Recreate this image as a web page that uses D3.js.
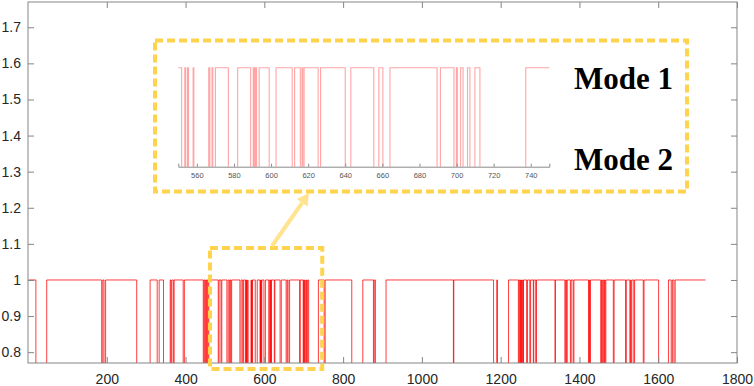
<!DOCTYPE html>
<html>
<head>
<meta charset="utf-8">
<script src="https://cdn.jsdelivr.net/npm/d3@7"></script>
<style>
  html, body { margin: 0; padding: 0; background: #fff; }
  svg { display: block; }
</style>
</head>
<body>
<svg id="chart" width="754" height="386"></svg>
<script>
// ---------------- DATA ----------------
// Mode-2 intervals (start, end) on the sample axis; elsewhere the system is in Mode 1
const mode2Start = [20, 187, 193, 276, 328, 344, 363, 369, 394, 445, 449, 453, 457, 483, 490,
  505, 511, 515, 538, 545, 551.8, 554, 555.5, 558.4, 567, 568.6, 577, 589, 591, 592.2, 599,
  611.4, 615.8, 617.1, 625.4, 640, 655.4, 660.3, 689.5, 698.6, 700.4, 703.5, 707.2, 712.6,
  751.8, 822, 877, 882, 1080, 1182, 1192, 1245, 1249, 1251, 1254, 1257, 1266, 1274, 1283, 1289,
  1338, 1363, 1367, 1377, 1384, 1423, 1426, 1454, 1458, 1462, 1465, 1486, 1517, 1528, 1531,
  1538, 1562, 1601, 1633, 1640];
const mode2End = [47.5, 190, 197, 310, 333, 361, 365, 371, 397, 447, 451, 455, 459, 485, 492,
  508, 513, 517, 541, 547, 553.5, 555, 558, 566.4, 568.2, 570, 582, 590.4, 591.6, 593.6, 602.7,
  612.7, 616.7, 617.8, 626.7, 643, 658.1, 664.1, 691.3, 699.9, 702.2, 705.9, 709.9, 737.3,
  754.4, 850, 879, 909, 1081, 1190, 1220, 1247, 1250, 1253, 1256, 1258, 1268, 1276, 1284, 1291,
  1339, 1365, 1369, 1379, 1386, 1425, 1428, 1456, 1460, 1464, 1467, 1488, 1519, 1530, 1533,
  1540, 1564, 1626, 1636, 1643];
const seriesStart = 1, seriesEnd = 1720;
const modeLevel = { 1: 1.0, 2: 0.5 };     // Mode 2 lies below the visible range

const xTicks = [200, 400, 600, 800, 1000, 1200, 1400, 1600, 1800];
const yTicks = [0.8, 0.9, 1.0, 1.1, 1.2, 1.3, 1.4, 1.5, 1.6, 1.7];
const insetDomain = [550, 750];
const zoomWindow = [462, 747];   // highlighted window on the main chart
const insetTicks = [560, 580, 600, 620, 640, 660, 680, 700, 720, 740];
const modeLabels = ["Mode 1", "Mode 2"];

// -------------- BUILD STEP SERIES --------------
const steps = [{ x: seriesStart, m: 1 }];
mode2Start.forEach((s, i) => {
  steps.push({ x: s, m: 2 });
  steps.push({ x: mode2End[i], m: 1 });
});
steps.push({ x: seriesEnd, m: 1 });

// -------------- LAYOUT --------------
const svg = d3.select("#chart");
const P = { left: 28, right: 737, top: 2, bottom: 363 };
const x = d3.scaleLinear().domain([0, 1800]).range([P.left, P.right]);
const y = d3.scaleLinear().domain([0.77, 1.77]).range([P.bottom, P.top]);
const axisGray = "#858585";
const labelCol = "#262626";
const FONT = "'Liberation Sans', Arial, Helvetica, sans-serif";

const defs = svg.append("defs");
defs.append("clipPath").attr("id", "mainClip").append("rect")
  .attr("x", P.left).attr("y", P.top).attr("width", P.right - P.left).attr("height", P.bottom - P.top);

// main series
const line = d3.line().x(d => x(d.x)).y(d => y(modeLevel[d.m])).curve(d3.curveStepAfter);
svg.append("path").datum(steps)
  .attr("clip-path", "url(#mainClip)")
  .attr("d", line).attr("fill", "none")
  .attr("stroke", "#ff0000").attr("stroke-width", 0.9).attr("stroke-opacity", 0.85);

// axes
function styleAxis(g, showLabels) {
  g.select(".domain").remove();
  g.selectAll(".tick line").attr("stroke", axisGray);
  g.selectAll(".tick text").attr("fill", labelCol).attr("font-family", FONT).attr("font-size", 14);
  if (!showLabels) g.selectAll(".tick text").remove();
}
const fmt = d => String(+d.toFixed(1));
svg.append("g").attr("transform", `translate(0,${P.bottom})`)
  .call(d3.axisBottom(x).tickValues(xTicks).tickSize(-6).tickPadding(11).tickFormat(d3.format("d")))
  .call(g => styleAxis(g, true));
svg.append("g").attr("transform", `translate(0,${P.top})`)
  .call(d3.axisTop(x).tickValues(xTicks).tickSize(-6))
  .call(g => styleAxis(g, false));
svg.append("g").attr("transform", `translate(${P.left},0)`)
  .call(d3.axisLeft(y).tickValues(yTicks).tickSize(-6).tickPadding(7).tickFormat(fmt))
  .call(g => styleAxis(g, true));
svg.append("g").attr("transform", `translate(${P.right},0)`)
  .call(d3.axisRight(y).tickValues(yTicks).tickSize(-6))
  .call(g => styleAxis(g, false));
svg.append("rect").attr("x", P.left).attr("y", P.top)
  .attr("width", P.right - P.left).attr("height", P.bottom - P.top)
  .attr("fill", "none").attr("stroke", axisGray).attr("stroke-width", 1);

// -------------- INSET --------------
const I = { left: 178.3, right: 549.3, top: 60, axis: 166.7, high: 67.7 };
const xi = d3.scaleLinear().domain(insetDomain).range([I.left, I.right]);
const yi = d3.scaleLinear().domain([0.77, 1.0]).range([I.axis, I.high]);
defs.append("clipPath").attr("id", "insetClip").append("rect")
  .attr("x", I.left).attr("y", I.top).attr("width", I.right - I.left).attr("height", I.axis - I.top);
const lineI = d3.line().x(d => xi(d.x)).y(d => yi(modeLevel[d.m])).curve(d3.curveStepAfter);
svg.append("path").datum(steps)
  .attr("clip-path", "url(#insetClip)")
  .attr("d", lineI).attr("fill", "none")
  .attr("stroke", "#ff8f8f").attr("stroke-width", 1.1).attr("stroke-opacity", 0.8);
const gi = svg.append("g").attr("transform", `translate(0,${I.axis})`)
  .call(d3.axisBottom(xi).tickValues(insetTicks).tickSize(-3).tickPadding(6).tickFormat(d3.format("d")));
gi.select(".domain").attr("stroke", "#8a8a8a");
gi.selectAll(".tick line").attr("stroke", "#8a8a8a");
gi.selectAll(".tick text").attr("fill", "#555").attr("font-family", FONT).attr("font-size", 7.5);

// mode labels
const modeY = [89, 170];
modeLabels.forEach((t, i) => {
  svg.append("text").attr("x", 673).attr("y", modeY[i]).attr("text-anchor", "end")
    .attr("font-family", "'Liberation Serif', 'Times New Roman', serif")
    .attr("font-weight", "bold").attr("font-size", 31).attr("fill", "#000").text(t);
});

// -------------- HIGHLIGHT BOXES & ARROW --------------
const gold = "#ffd34e";
const zx0 = x(zoomWindow[0]), zx1 = x(zoomWindow[1]);
svg.append("rect").attr("x", zx0).attr("y", 248).attr("width", zx1 - zx0).attr("height", 121)
  .attr("fill", "none").attr("stroke", gold).attr("stroke-width", 4).attr("stroke-dasharray", "8,4");
svg.append("rect").attr("x", 155).attr("y", 40.5).attr("width", 532).attr("height", 151)
  .attr("fill", "none").attr("stroke", gold).attr("stroke-width", 4).attr("stroke-dasharray", "8,4");

const a0 = [272, 246], tip = [309, 193];
const dx = tip[0] - a0[0], dy = tip[1] - a0[1], L = Math.hypot(dx, dy);
const ux = dx / L, uy = dy / L, nx = -uy, ny = ux;
const hl = 12, hw = 6.5;
const bx = tip[0] - hl * ux, by = tip[1] - hl * uy;
const arrowCol = "#ffe38f";
svg.append("line").attr("x1", a0[0]).attr("y1", a0[1]).attr("x2", bx).attr("y2", by)
  .attr("stroke", arrowCol).attr("stroke-width", 4);
svg.append("path")
  .attr("d", `M${tip[0]},${tip[1]}L${bx + hw * nx},${by + hw * ny}L${bx - hw * nx},${by - hw * ny}Z`)
  .attr("fill", arrowCol);
</script>
</body>
</html>
